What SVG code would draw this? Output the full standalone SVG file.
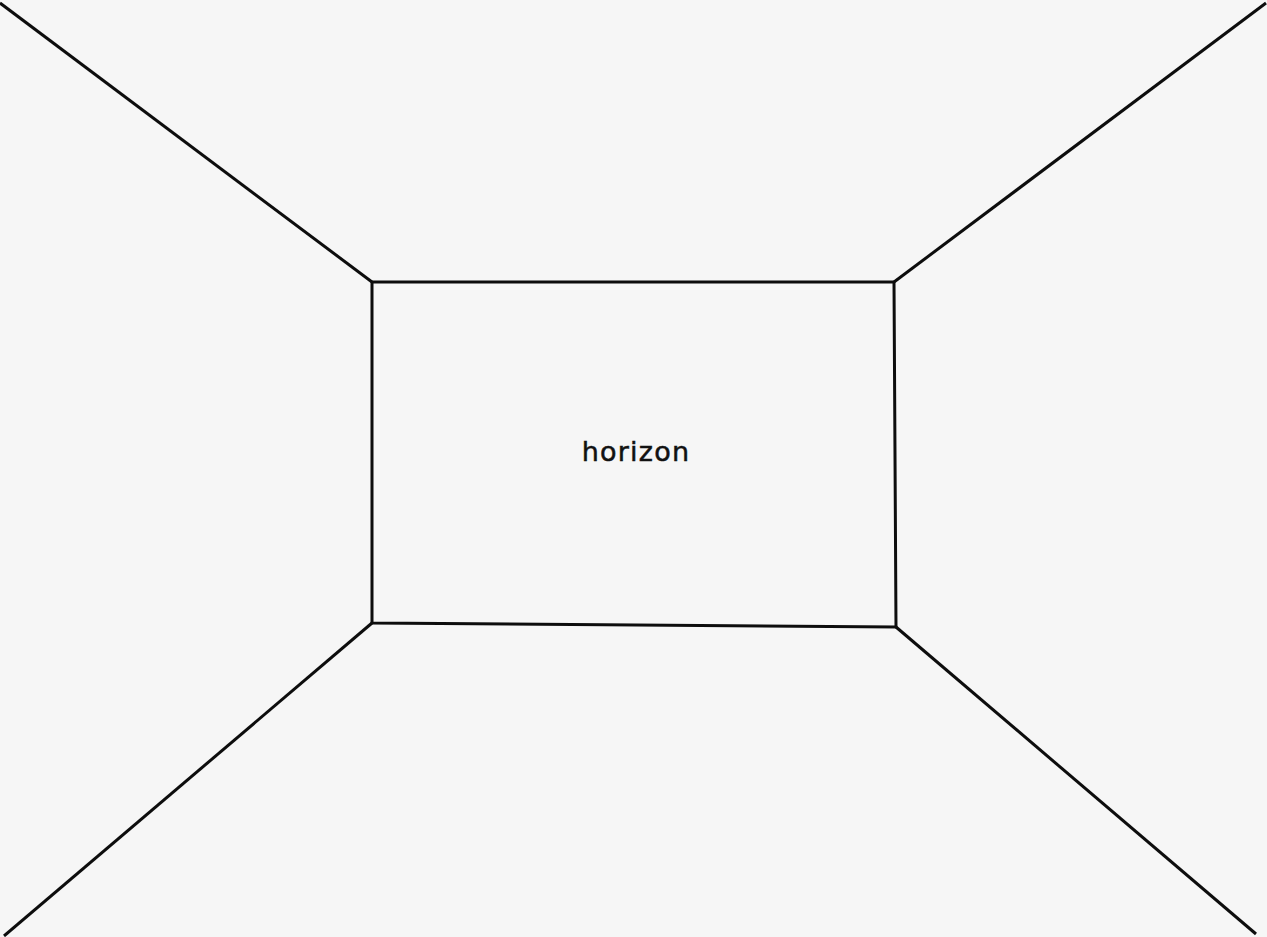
<svg xmlns="http://www.w3.org/2000/svg" width="1267" height="937" viewBox="0 0 1267 937">
<style>
.l{stroke:#0d0d0d;stroke-width:3;fill:none;stroke-linecap:butt;stroke-linejoin:miter}
.t{font-family:"DejaVu Sans",sans-serif;font-size:27px;letter-spacing:1.2px;fill:#111;stroke:#111;stroke-width:0.5}
</style>
<rect width="1267" height="937" fill="#f6f6f6"/>
<g id="room">
<path class="l" d="M372 282 L894 282 L896 627 L372 623 Z"/>
<line class="l" x1="0" y1="3" x2="372" y2="282"/>
<line class="l" x1="1266" y1="3" x2="894" y2="282"/>
<line class="l" x1="4" y1="936" x2="372" y2="623"/>
<line class="l" x1="1256" y1="934" x2="896" y2="627"/>
</g>
<text class="t" x="636" y="461" text-anchor="middle">horizon</text>
</svg>
